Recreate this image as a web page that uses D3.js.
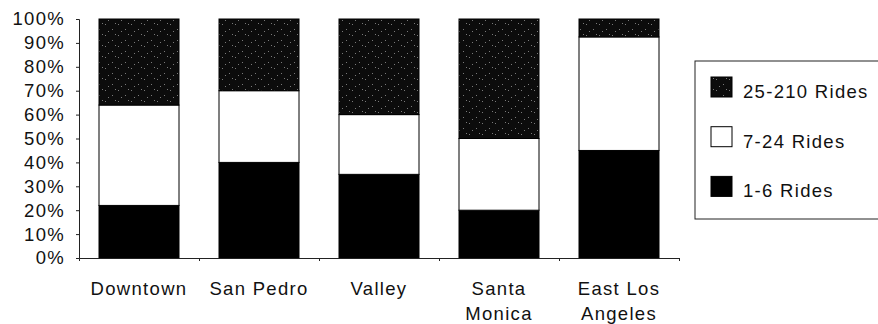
<!DOCTYPE html>
<html>
<head>
<meta charset="utf-8">
<script src="https://cdn.jsdelivr.net/npm/d3@7"></script>
<style>
  body { margin: 0; background: #fff; }
  svg { display: block; }
  text { font-family: "Liberation Sans", Arial, Helvetica, sans-serif; fill: #111; }
</style>
</head>
<body>
<svg id="chart" width="878" height="324"></svg>
<script>
// Share of riders by number of rides, per service area
const categories = ["Downtown", "San Pedro", "Valley", "Santa Monica", "East Los Angeles"];
const categoryLines = [["Downtown"], ["San Pedro"], ["Valley"], ["Santa", "Monica"], ["East Los", "Angeles"]];
const seriesNames = ["1-6 Rides", "7-24 Rides", "25-210 Rides"];
const rides1to6 = [22, 40, 35, 20, 45];
const rides7to24 = [42, 30, 25, 30, 47.5];
const rides25to210 = [36, 30, 40, 50, 7.5];
const yTicks = [0, 10, 20, 30, 40, 50, 60, 70, 80, 90, 100];
const legendOrder = ["25-210 Rides", "7-24 Rides", "1-6 Rides"];

const table = categories.map((c, i) => ({
  category: c,
  "1-6 Rides": rides1to6[i],
  "7-24 Rides": rides7to24[i],
  "25-210 Rides": rides25to210[i]
}));

const FONT = 18.5;
const TRACK = "1.3px";

const svg = d3.select("#chart");

// Speckled dark fill for the heaviest riders
const defs = svg.append("defs");
const pat = defs.append("pattern")
  .attr("id", "speckle")
  .attr("patternUnits", "userSpaceOnUse")
  .attr("width", 13).attr("height", 11);
pat.append("rect").attr("width", 13).attr("height", 11).attr("fill", "#0c0c0c");
[[1, 2], [8, 7], [11, 1], [4, 9]].forEach(([px, py]) => {
  pat.append("rect").attr("x", px).attr("y", py).attr("width", 1).attr("height", 1).attr("fill", "#7a7a7a");
});

const fills = {
  "1-6 Rides": "#000",
  "7-24 Rides": "#fff",
  "25-210 Rides": "url(#speckle)"
};

const x = d3.scaleBand()
  .domain(categories)
  .range([79, 679])
  .paddingInner(1 / 3)
  .paddingOuter(1 / 6);

const xEdge = d3.scaleLinear().domain([0, categories.length]).range([79, 679]);

const y = d3.scaleLinear().domain([0, 100]).range([258, 19]);

const stacked = d3.stack().keys(seriesNames)(table);

// Bars
svg.append("g")
  .selectAll("g")
  .data(stacked)
  .join("g")
  .attr("fill", d => fills[d.key])
  .selectAll("rect")
  .data(d => d)
  .join("rect")
  .attr("x", d => x(d.data.category))
  .attr("y", d => y(d[1]))
  .attr("width", x.bandwidth())
  .attr("height", d => y(d[0]) - y(d[1]))
  .attr("stroke", "#000")
  .attr("stroke-width", 1);

// Y axis
const yAxis = svg.append("g")
  .attr("transform", "translate(79,0)")
  .call(d3.axisLeft(y).tickValues(yTicks).tickSize(3).tickPadding(11).tickFormat(d => d + "%"));
yAxis.select(".domain").attr("stroke", "#222");
yAxis.selectAll(".tick line").attr("stroke", "#222");
yAxis.selectAll(".tick text")
  .attr("font-size", FONT)
  .attr("letter-spacing", TRACK)
  .attr("fill", "#111")
  .attr("font-family", "'Liberation Sans', Arial, Helvetica, sans-serif");

// X axis with ticks between categories
const xAxis = svg.append("g")
  .attr("transform", "translate(0,258)")
  .call(d3.axisBottom(xEdge).tickValues(d3.range(1, categories.length + 1)).tickSize(3).tickFormat(""));
xAxis.select(".domain").attr("stroke", "#222");
xAxis.selectAll(".tick line").attr("stroke", "#222");

// Category labels
const catLabels = svg.append("g")
  .selectAll("text")
  .data(categories)
  .join("text")
  .attr("x", d => x(d) + x.bandwidth() / 2)
  .attr("y", 295)
  .attr("text-anchor", "middle")
  .attr("font-size", FONT)
  .attr("letter-spacing", TRACK);
catLabels.selectAll("tspan")
  .data((d, i) => categoryLines[i].map(t => ({ t, cx: x(d) + x.bandwidth() / 2 })))
  .join("tspan")
  .attr("x", d => d.cx)
  .attr("dy", (d, i) => i === 0 ? 0 : 25)
  .text(d => d.t);

// Legend
const legend = svg.append("g");
legend.append("rect")
  .attr("x", 695).attr("y", 61)
  .attr("width", 200).attr("height", 158)
  .attr("fill", "none")
  .attr("stroke", "#222")
  .attr("stroke-width", 1);

const legendItems = legend.selectAll("g.item")
  .data(legendOrder)
  .join("g")
  .attr("class", "item")
  .attr("transform", (d, i) => `translate(0,${i * 49.7})`);
legendItems.append("rect")
  .attr("x", 711).attr("y", 77)
  .attr("width", 21).attr("height", 20)
  .attr("fill", d => fills[d])
  .attr("stroke", "#000");
legendItems.append("text")
  .attr("x", 743).attr("y", 98)
  .attr("font-size", FONT)
  .attr("letter-spacing", TRACK)
  .text(d => d);
</script>
</body>
</html>
